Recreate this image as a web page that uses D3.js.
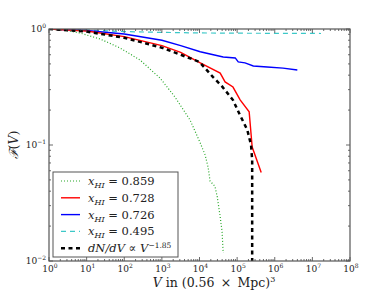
<!DOCTYPE html>
<html>
<head>
<meta charset="utf-8">
<script src="https://cdn.jsdelivr.net/npm/d3@7"></script>
<style>
  body { margin: 0; background: #fff; }
  text { font-family: "DejaVu Serif", "Liberation Serif", serif; fill: #222; }
</style>
</head>
<body>
<script>
// data (log10 V, F(V))
var greenV = [0, 0.4, 0.82, 1.36, 1.89, 2.42, 2.95, 3.35, 3.75, 4.02, 4.15, 4.23, 4.28, 4.41, 4.47, 4.55, 4.60, 4.63];
var greenF = [1.0, 0.975, 0.924, 0.82, 0.686, 0.54, 0.378, 0.259, 0.164, 0.104, 0.082, 0.064, 0.049, 0.044, 0.036, 0.024, 0.018, 0.0117];

var redV = [0, 1, 2, 3, 3.5, 4.02, 4.55, 4.68, 4.89, 5.08, 5.32, 5.40, 5.64];
var redF = [1.0, 0.96, 0.86, 0.72, 0.63, 0.51, 0.417, 0.35, 0.316, 0.245, 0.193, 0.096, 0.058];

var blueV = [0, 1, 2, 3, 3.5, 4.02, 4.28, 4.63, 4.95, 5.03, 5.21, 5.43, 5.80, 6.22, 6.6];
var blueF = [1.0, 0.97, 0.905, 0.80, 0.72, 0.637, 0.609, 0.573, 0.563, 0.52, 0.51, 0.48, 0.47, 0.46, 0.443];

var cyanV = [0, 1, 2, 3, 4, 5, 6, 7.23];
var cyanF = [1.0, 0.98, 0.95, 0.935, 0.925, 0.92, 0.918, 0.915];

var fitV = [0, 1, 2, 3, 3.5, 4, 4.36, 4.6, 4.89, 5.08, 5.27, 5.37, 5.40, 5.40];
var fitF = [1.0, 0.95, 0.84, 0.69, 0.6, 0.52, 0.385, 0.32, 0.244, 0.18, 0.135, 0.10, 0.074, 0.01];

var legendLabels = ["0.859", "0.728", "0.726", "0.495"];
var xTickExp = [0, 1, 2, 3, 4, 5, 6, 7, 8];
var yTickExp = [-2, -1, 0];

(function(){

var width = 390, height = 293;
var pLeft = 49, pRight = 350, pTop = 29, pBottom = 261;

var svg = d3.select("body").append("svg")
    .attr("width", width).attr("height", height);

var x = d3.scaleLog().domain([1, 1e8]).range([pLeft, pRight]);
var y = d3.scaleLog().domain([0.01, 1]).range([pBottom, pTop]);

function toPts(vs, fs){
    return vs.map(function(v, i){ return [Math.pow(10, v), fs[i]]; });
}

var line = d3.line()
    .x(function(d){ return x(d[0]); })
    .y(function(d){ return y(d[1]); });

var series = [
    {pts: toPts(greenV, greenF), color: "#2aa82a", w: 1.2, dash: "1,2"},
    {pts: toPts(cyanV, cyanF), color: "#3cc8c8", w: 1.2, dash: "5,4"},
    {pts: toPts(blueV, blueF), color: "#0000ff", w: 1.4, dash: null},
    {pts: toPts(redV, redF), color: "#ff0000", w: 1.4, dash: null},
    {pts: toPts(fitV, fitF), color: "#000000", w: 2.5, dash: "4,3.5"}
];

svg.append("clipPath").attr("id", "clip")
    .append("rect").attr("x", pLeft).attr("y", pTop)
    .attr("width", pRight - pLeft).attr("height", pBottom - pTop);

svg.append("g").attr("clip-path", "url(#clip)")
    .selectAll("path").data(series).enter().append("path")
    .attr("d", function(d){ return line(d.pts); })
    .attr("fill", "none")
    .attr("stroke", function(d){ return d.color; })
    .attr("stroke-width", function(d){ return d.w; })
    .attr("stroke-dasharray", function(d){ return d.dash; });

// ticks, pointing inward on all four sides
var ticks = svg.append("g").attr("stroke", "#444").attr("stroke-width", 0.8);
var xMinor = [], yMinor = [];
for (var e = 0; e < 8; e++) for (var m = 2; m < 10; m++) xMinor.push(m * Math.pow(10, e));
for (var e2 = -2; e2 < 0; e2++) for (var m2 = 2; m2 < 10; m2++) yMinor.push(m2 * Math.pow(10, e2));

xTickExp.forEach(function(e){
    var px = x(Math.pow(10, e));
    ticks.append("line").attr("x1", px).attr("x2", px).attr("y1", pBottom).attr("y2", pBottom - 4);
    ticks.append("line").attr("x1", px).attr("x2", px).attr("y1", pTop).attr("y2", pTop + 4);
});
xMinor.forEach(function(v){
    var px = x(v);
    ticks.append("line").attr("x1", px).attr("x2", px).attr("y1", pBottom).attr("y2", pBottom - 2);
    ticks.append("line").attr("x1", px).attr("x2", px).attr("y1", pTop).attr("y2", pTop + 2);
});
yTickExp.forEach(function(e){
    var py = y(Math.pow(10, e));
    ticks.append("line").attr("y1", py).attr("y2", py).attr("x1", pLeft).attr("x2", pLeft + 4);
    ticks.append("line").attr("y1", py).attr("y2", py).attr("x1", pRight).attr("x2", pRight - 4);
});
yMinor.forEach(function(v){
    var py = y(v);
    ticks.append("line").attr("y1", py).attr("y2", py).attr("x1", pLeft).attr("x2", pLeft + 2);
    ticks.append("line").attr("y1", py).attr("y2", py).attr("x1", pRight).attr("x2", pRight - 2);
});

svg.append("rect").attr("x", pLeft).attr("y", pTop)
    .attr("width", pRight - pLeft).attr("height", pBottom - pTop)
    .attr("fill", "none").attr("stroke", "#555").attr("stroke-width", 1.2);

// tick labels
xTickExp.forEach(function(e){
    var t = svg.append("text").attr("x", x(Math.pow(10, e)) + 1).attr("y", pBottom + 11)
        .attr("text-anchor", "middle").style("font-size", "9px");
    t.append("tspan").text("10");
    t.append("tspan").attr("dy", -4).style("font-size", "6px").text(e);
});
yTickExp.forEach(function(e){
    var t = svg.append("text").attr("x", pLeft - 3).attr("y", y(Math.pow(10, e)) + 3)
        .attr("text-anchor", "end").style("font-size", "9px");
    t.append("tspan").text("10");
    t.append("tspan").attr("dy", -4).style("font-size", "6px").text(e === 0 ? "0" : "\u2212" + (-e));
});

// axis labels
var xl = svg.append("text").attr("x", 214).attr("y", 287)
    .attr("text-anchor", "middle").style("font-size", "12.5px");
xl.append("tspan").style("font-style", "italic").text("V");
xl.append("tspan").text(" in (0.56\u2002\u00d7\u2002Mpc)");
xl.append("tspan").attr("dy", -5).style("font-size", "8px").text("3");

var yl = svg.append("text").attr("transform", "translate(18," + ((pTop + pBottom) / 2) + ") rotate(-90)")
    .attr("text-anchor", "middle").style("font-size", "12.5px");
yl.append("tspan").style("font-style", "italic").text("\u2131");
yl.append("tspan").text("(");
yl.append("tspan").style("font-style", "italic").text("V");
yl.append("tspan").text(")");

// legend
var lg = svg.append("g");
lg.append("rect").attr("x", 53).attr("y", 172).attr("width", 125).attr("height", 85)
    .attr("fill", "#fff").attr("stroke", "#555").attr("stroke-width", 1);

var legendSeries = [series[0], series[3], series[2], series[1], series[4]];
legendSeries.forEach(function(s, i){
    var ly = 181 + i * 16.8;
    lg.append("line").attr("x1", 61).attr("x2", 80).attr("y1", ly).attr("y2", ly)
        .attr("stroke", s.color).attr("stroke-width", s.w).attr("stroke-dasharray", s.dash);
    var t = lg.append("text").attr("x", 88).attr("y", ly + 4).style("font-size", "11.5px");
    if (i < 4) {
        t.append("tspan").style("font-style", "italic").text("x");
        t.append("tspan").attr("dy", 3).style("font-size", "8px").style("font-style", "italic").text("HI");
        t.append("tspan").attr("dy", -3).text(" = " + legendLabels[i]);
    } else {
        t.append("tspan").style("font-style", "italic").text("dN/dV");
        t.append("tspan").text(" \u221d ");
        t.append("tspan").style("font-style", "italic").text("V");
        t.append("tspan").attr("dy", -4.5).style("font-size", "7.5px").text("\u22121.85");
    }
});

})();
</script>
</body>
</html>
